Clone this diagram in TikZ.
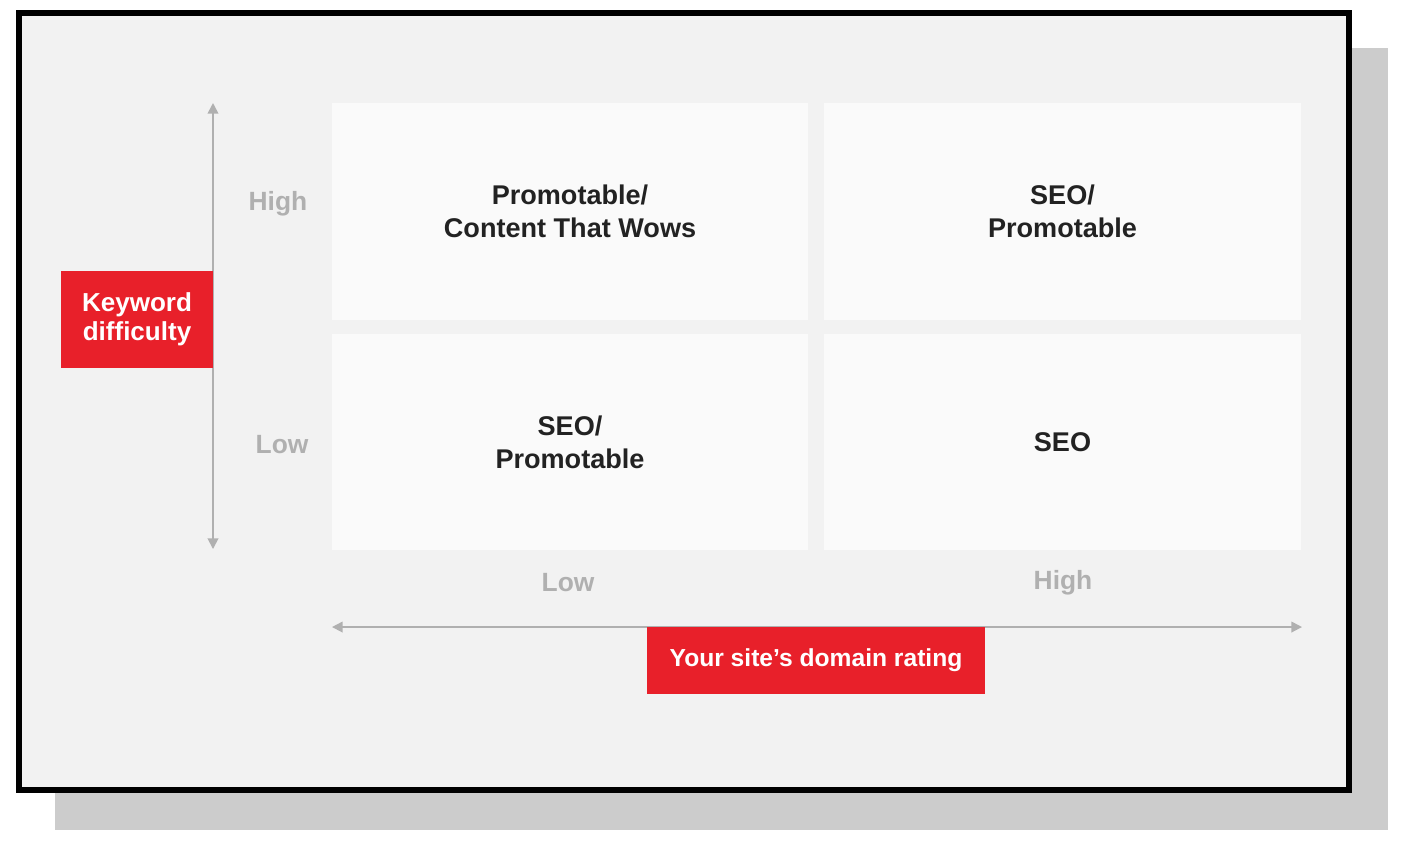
\documentclass[tikz,border=0pt]{standalone}
\usepackage{fontspec}
\setmainfont{Liberation Sans}
\usetikzlibrary{arrows.meta}

\definecolor{sfondo}{HTML}{F2F2F2}
\definecolor{cella}{HTML}{FAFAFA}
\definecolor{ombra}{HTML}{CCCCCC}
\definecolor{rosso}{HTML}{E8202A}
\definecolor{asse}{HTML}{B0B0B0}
\definecolor{scuro}{HTML}{222222}

\begin{document}
\begin{tikzpicture}[x=0.01cm, y=-0.01cm,
    cella/.style={fill=cella, inner sep=0pt, minimum width=4.76cm, minimum height=2.16cm,
      align=center, text=scuro, font=\fontsize{7.7}{9.4}\selectfont\bfseries},
    etichetta/.style={fill=rosso, inner sep=0pt, align=center, text=white,
      font=\fontsize{7}{8.3}\selectfont\bfseries},
    livello/.style={text=asse, font=\fontsize{7.5}{8}\selectfont\bfseries},
    freccia/.style={asse, line width=0.5pt, {Triangle[length=3pt, width=3pt]}-{Triangle[length=3pt, width=3pt]}}]
  \useasboundingbox (0,0) rectangle (1410,850);

  % Cornice
  \fill[ombra] (55,48) rectangle (1388,830);
  \filldraw[fill=sfondo, draw=black, line width=1.7pt] (19,13) rectangle (1349,790);

  % Nodi
  \node[cella] (a) at (570,211.5) {Promotable/\\Content That Wows};
  \node[cella] (b) at (1062.5,211.5) {SEO/\\Promotable};
  \node[cella] (c) at (570,442) {SEO/\\Promotable};
  \node[cella] (d) at (1062.5,442) {SEO};

  \node[livello] (yalto) at (278,204) {High};
  \node[livello] (ybasso) at (282,445) {Low};
  \node[livello] (xbasso) at (568,583) {Low};
  \node[livello] (xalto) at (1063,583) {High};

  \coordinate (ysu) at (213,103);
  \coordinate (ygiu) at (213,549);
  \coordinate (xsx) at (332,627);
  \coordinate (xdx) at (1302,627);

  % Archi
  \draw[freccia] (ysu) -- (ygiu);
  \draw[freccia] (xsx) -- (xdx);

  \node[etichetta, minimum width=1.52cm, minimum height=0.97cm, font=\fontsize{7.4}{8.3}\selectfont\bfseries] (kd) at (137,319.5) {Keyword\\difficulty};
  \node[etichetta, minimum width=3.38cm, minimum height=0.67cm] (dr) at (816,660.5) {Your site’s domain rating};
\end{tikzpicture}
\end{document}
